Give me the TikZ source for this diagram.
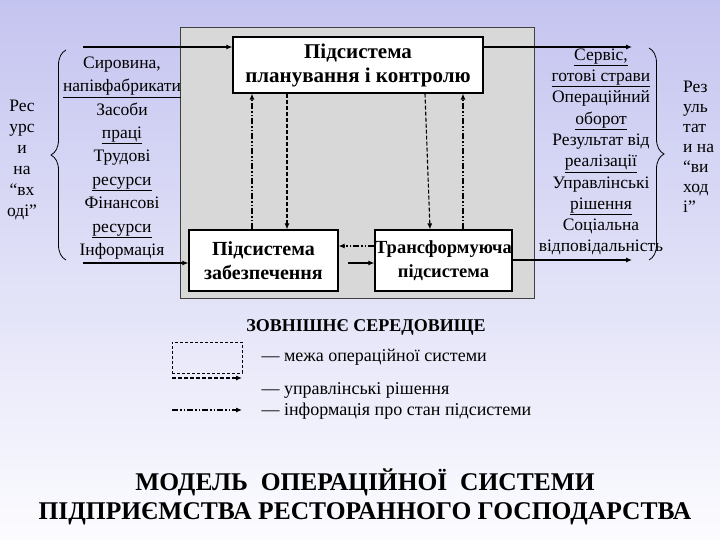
\documentclass[tikz,border=0pt]{standalone}
\usepackage{fontspec}
\setmainfont{Liberation Serif}
\usetikzlibrary{positioning, arrows.meta, decorations.pathreplacing}
\definecolor{lavender}{RGB}{196,196,240}
\definecolor{paleback}{RGB}{252,252,255}
\definecolor{sysgray}{RGB}{216,216,216}

\begin{document}
\begin{tikzpicture}[x=1pt, y=-1pt,
    sub/.style={draw, line width=1.2pt, fill=white, align=center, inner sep=0pt,
      font=\fontsize{20}{24}\selectfont\bfseries},
    txt/.style={align=center, inner sep=0pt},
    arr/.style={-{Latex[length=6pt, width=5pt]}, line width=1.1pt},
    ctrl/.style={arr, dash pattern=on 4pt off 2pt},
    info/.style={arr, dash pattern=on 6pt off 2pt on 1.5pt off 2pt on 1.5pt off 2pt},
    brc/.style={decorate, decoration={brace, amplitude=15pt}, line width=0.8pt}
  ]
    \shade[top color=lavender, bottom color=paleback] (0,0) rectangle (720,540);

    \node[draw=black!75, line width=0.6pt, fill=sysgray, minimum width=354pt,
      minimum height=271pt] (opsys) at (357,162.5) {};
    \node[sub, font=\fontsize{21}{24}\selectfont\bfseries, minimum width=250pt,
      minimum height=56pt] (plan) at (358,65) {Підсистема\\планування і контролю};
    \node[sub, minimum width=149pt, minimum height=61pt] (sup) at (263.5,260.5)
      {Підсистема\\забезпечення};
    \node[sub, font=\fontsize{18.5}{24}\selectfont\bfseries, minimum width=137pt,
      minimum height=61pt] (trans) at (443.5,260.5) {Трансформуюча\\підсистема};

    \node[txt, font=\fontsize{17.5}{23.4}\selectfont] (inputs) at (122,158)
      {Сировина,\\\underline{напівфабрикати}\\Засоби\\\underline{праці}\\Трудові\\
       \underline{ресурси}\\Фінансові\\\underline{ресурси}\\Інформація};
    \node[txt, font=\fontsize{17.5}{21}\selectfont] (inlabel) at (22,160)
      {Рес\\урс\\и\\на\\“вх\\оді”};
    \node[txt, font=\fontsize{17.5}{21.3}\selectfont] (outputs) at (601,152)
      {\underline{Сервіс,}\\\underline{готові страви}\\Операційний\\\underline{оборот}\\
       Результат від\\\underline{реалізації}\\Управлінські\\\underline{рішення}\\
       Соціальна\\відповідальність};
    \node[txt, align=left, anchor=west, font=\fontsize{17.5}{20}\selectfont] (outlabel)
      at (683,147) {Рез\\уль\\тат\\и на\\“ви\\ход\\і”};

    \draw[brc] (66,260) -- (66,50);
    \draw[brc] (649,48) -- (649,260);

    \coordinate (in1) at (83,47);
    \coordinate (in2) at (83,263);
    \coordinate (out1) at (632,47);
    \coordinate (out2) at (632,260);
    \draw[arr] (in1) -- (in1 -| plan.west);
    \draw[arr] (in2) -- (in2 -| sup.west);
    \draw[arr] (out1 -| plan.east) -- (out1);
    \draw[arr] (out2 -| trans.east) -- (out2);

    \draw[info] ([xshift=-11.5pt]sup.north) -- ([xshift=-11.5pt]sup.north |- plan.south);
    \draw[ctrl] ([xshift=23.5pt]sup.north |- plan.south) -- ([xshift=23.5pt]sup.north);
    \draw[ctrl] ([xshift=67pt]plan.south) -- ([xshift=-13.5pt]trans.north);
    \draw[info] ([xshift=19.5pt]trans.north) -- ([xshift=19.5pt]trans.north |- plan.south);
    \draw[info] ([yshift=14.5pt]trans.west) -- ([yshift=14.5pt]trans.west -| sup.east);
    \draw[arr] ([xshift=9pt, yshift=-2.5pt]sup.east) -- ([yshift=-2.5pt]sup.east -| trans.west);

    \node[font=\fontsize{18}{20}\selectfont\bfseries] (env) at (366,327)
      {ЗОВНІШНЄ СЕРЕДОВИЩЕ};
    \node[draw, line width=0.7pt, dash pattern=on 3pt off 2pt, minimum width=70pt,
      minimum height=31pt] (lbox) at (207,357.5) {};
    \node[anchor=west, font=\fontsize{18}{20}\selectfont] (lt1) at (258,357)
      {— межа операційної системи};
    \coordinate (lc1) at (172,378);
    \coordinate (lc2) at (242,378);
    \draw[ctrl] (lc1) -- (lc2);
    \node[anchor=west, font=\fontsize{18}{20}\selectfont] (lt2) at (258,390)
      {— управлінські рішення};
    \coordinate (li1) at (172,410);
    \coordinate (li2) at (242,410);
    \draw[info] (li1) -- (li2);
    \node[anchor=west, font=\fontsize{18}{20}\selectfont] (lt3) at (258,411)
      {— інформація про стан підсистеми};

    \node[txt, font=\fontsize{25.5}{29}\selectfont\bfseries] (title) at (365,497)
      {МОДЕЛЬ\ \ ОПЕРАЦІЙНОЇ\ \ СИСТЕМИ\\ПІДПРИЄМСТВА РЕСТОРАННОГО ГОСПОДАРСТВА};
  \end{tikzpicture}
\end{document}
